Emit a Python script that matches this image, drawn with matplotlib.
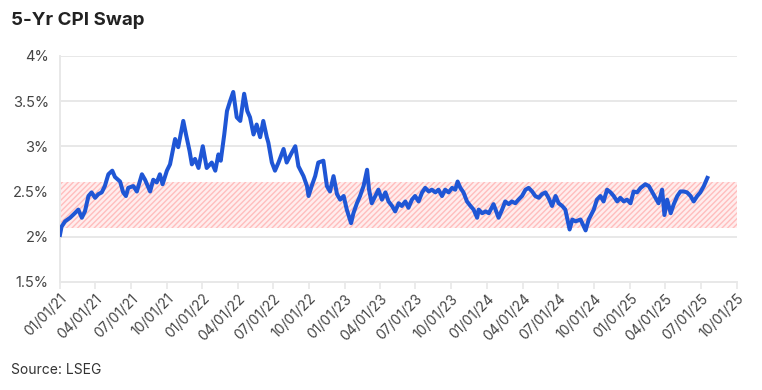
import matplotlib
matplotlib.use('Agg')
import matplotlib.pyplot as plt
import matplotlib.dates as mdates
from matplotlib.ticker import FuncFormatter
import numpy as np
import pandas as pd

# 5-year CPI swap rate (%)
dates = [
    '2021-01-01', '2021-01-05', '2021-01-14', '2021-01-27', '2021-02-08', '2021-02-17',
    '2021-02-26', '2021-03-06', '2021-03-15', '2021-03-23', '2021-04-01', '2021-04-09',
    '2021-04-18', '2021-04-26', '2021-05-05', '2021-05-15', '2021-05-22', '2021-06-04',
    '2021-06-12', '2021-06-19', '2021-06-25', '2021-07-08', '2021-07-17', '2021-07-30',
    '2021-08-07', '2021-08-20', '2021-08-28', '2021-09-06', '2021-09-14', '2021-09-21',
    '2021-10-02', '2021-10-10', '2021-10-23', '2021-10-31', '2021-11-13', '2021-11-20',
    '2021-11-29', '2021-12-05', '2021-12-13', '2021-12-22',
    '2022-01-02', '2022-01-12', '2022-01-25', '2022-02-03', '2022-02-11', '2022-02-17',
    '2022-02-26', '2022-03-05', '2022-03-13', '2022-03-21', '2022-03-30', '2022-04-08',
    '2022-04-18', '2022-04-26', '2022-05-03', '2022-05-12', '2022-05-20', '2022-05-29',
    '2022-06-06', '2022-06-15', '2022-06-19', '2022-06-28', '2022-07-06', '2022-07-15',
    '2022-07-28', '2022-08-05', '2022-08-18', '2022-08-27', '2022-09-04', '2022-09-17',
    '2022-09-26', '2022-09-30', '2022-10-08', '2022-10-17', '2022-10-25', '2022-11-07',
    '2022-11-16', '2022-11-24', '2022-12-03', '2022-12-12', '2022-12-20', '2022-12-29',
    '2023-01-06', '2023-01-17', '2023-01-23', '2023-02-01', '2023-02-09', '2023-02-18',
    '2023-02-27', '2023-03-04', '2023-03-11', '2023-03-20', '2023-03-28', '2023-04-06',
    '2023-04-15', '2023-04-23', '2023-05-02', '2023-05-10', '2023-05-19', '2023-05-27',
    '2023-06-05', '2023-06-13', '2023-06-22', '2023-06-30', '2023-07-09', '2023-07-18',
    '2023-07-26', '2023-08-04', '2023-08-12', '2023-08-21', '2023-08-29', '2023-09-07',
    '2023-09-15', '2023-09-24', '2023-10-03', '2023-10-11', '2023-10-17', '2023-10-24',
    '2023-11-01', '2023-11-10', '2023-11-19', '2023-11-27', '2023-12-06', '2023-12-10',
    '2023-12-19', '2023-12-28',
    '2024-01-05', '2024-01-17', '2024-01-30', '2024-02-08', '2024-02-16', '2024-02-25',
    '2024-03-04', '2024-03-13', '2024-03-21', '2024-03-30', '2024-04-08', '2024-04-16',
    '2024-04-25', '2024-05-03', '2024-05-12', '2024-05-20', '2024-05-29', '2024-06-06',
    '2024-06-15', '2024-06-24', '2024-07-02', '2024-07-11', '2024-07-19', '2024-07-30',
    '2024-08-06', '2024-08-14', '2024-08-27', '2024-09-09', '2024-09-17', '2024-09-30',
    '2024-10-08', '2024-10-17', '2024-10-25', '2024-11-03', '2024-11-12', '2024-11-20',
    '2024-11-29', '2024-12-07', '2024-12-16', '2024-12-24',
    '2025-01-02', '2025-01-10', '2025-01-19', '2025-01-28', '2025-02-09', '2025-02-18',
    '2025-02-27', '2025-03-07', '2025-03-15', '2025-03-24', '2025-03-30', '2025-04-06',
    '2025-04-15', '2025-04-23', '2025-05-02', '2025-05-10', '2025-05-19', '2025-05-27',
    '2025-06-05', '2025-06-13', '2025-06-22', '2025-06-30', '2025-07-09', '2025-07-18',
]
swap = [
    2.02, 2.11, 2.17, 2.21, 2.26, 2.30,
    2.21, 2.28, 2.45, 2.49, 2.43, 2.47,
    2.49, 2.56, 2.69, 2.73, 2.66, 2.61,
    2.49, 2.45, 2.54, 2.56, 2.50, 2.69,
    2.63, 2.50, 2.63, 2.60, 2.69, 2.58,
    2.73, 2.80, 3.08, 2.99, 3.28, 3.13,
    2.95, 2.80, 2.86, 2.76,
    3.00, 2.76, 2.82, 2.73, 2.91, 2.84,
    3.13, 3.39, 3.50, 3.60, 3.32, 3.28,
    3.58, 3.39, 3.32, 3.13, 3.24, 3.10,
    3.28, 3.10, 3.04, 2.82, 2.73, 2.82,
    2.97, 2.82, 2.93, 3.00, 2.78, 2.67,
    2.56, 2.45, 2.56, 2.67, 2.82, 2.84,
    2.56, 2.50, 2.67, 2.47, 2.41, 2.45,
    2.30, 2.15, 2.26, 2.37, 2.45, 2.56,
    2.74, 2.52, 2.37, 2.45, 2.52, 2.41,
    2.49, 2.39, 2.34, 2.28, 2.37, 2.34,
    2.39, 2.32, 2.41, 2.45, 2.39, 2.49,
    2.54, 2.50, 2.52, 2.49, 2.52, 2.45,
    2.52, 2.49, 2.54, 2.52, 2.61, 2.54,
    2.49, 2.39, 2.34, 2.30, 2.21, 2.30,
    2.26, 2.28,
    2.26, 2.36, 2.21, 2.30, 2.39, 2.36,
    2.39, 2.37, 2.41, 2.45, 2.52, 2.54,
    2.50, 2.45, 2.43, 2.47, 2.49, 2.43,
    2.34, 2.45, 2.37, 2.34, 2.30, 2.08,
    2.19, 2.17, 2.19, 2.07, 2.19, 2.30,
    2.41, 2.45, 2.39, 2.52, 2.49, 2.45,
    2.39, 2.43, 2.39, 2.41,
    2.37, 2.50, 2.49, 2.54, 2.58, 2.56,
    2.49, 2.43, 2.37, 2.52, 2.24, 2.41,
    2.26, 2.36, 2.45, 2.50, 2.50, 2.49,
    2.45, 2.39, 2.45, 2.49, 2.56, 2.65,
]
band_low, band_high = 2.1, 2.6
tick_dates = pd.date_range('2021-01-01', '2025-10-01', freq='3MS')

plt.rcParams['font.family'] = ['Inter', 'DejaVu Sans']

fig = plt.figure(figsize=(7.62, 3.90), dpi=100)
ax = fig.add_axes([0.0787, 0.277, 0.888, 0.580])

grid_c = '#e8e8e8'
ax.axhspan(band_low, band_high, facecolor='#ffeded', edgecolor='#ffbdbd',
           hatch='//////', linewidth=0, zorder=1)
ax.plot(pd.to_datetime(dates), swap, color='#1f56d5', lw=2.9,
        solid_joinstyle='round', zorder=3)

ax.set_ylim(1.5, 4.0)
ax.set_yticks([1.5, 2.0, 2.5, 3.0, 3.5, 4.0])
ax.yaxis.set_major_formatter(FuncFormatter(lambda v, p: f'{v:g}%'))
ax.set_xlim(tick_dates[0], tick_dates[-1])
ax.set_xticks(tick_dates)
ax.xaxis.set_major_formatter(mdates.DateFormatter('%m/%d/%y'))

ax.grid(axis='y', color=grid_c, lw=1.4, zorder=0)
ax.set_axisbelow(True)
for s in ['top', 'right']:
    ax.spines[s].set_visible(False)
ax.spines['left'].set_color(grid_c)
ax.spines['left'].set_linewidth(1.4)
ax.spines['bottom'].set_color(grid_c)
ax.spines['bottom'].set_linewidth(1.4)

ax.tick_params(axis='y', length=0, pad=8, labelsize=10.5, labelcolor='#444444')
ax.tick_params(axis='x', length=5, width=1.2, color=grid_c, pad=2,
               labelsize=10, labelcolor='#444444')
for lab in ax.get_xticklabels():
    lab.set_rotation(45)
    lab.set_ha('right')
    lab.set_rotation_mode('anchor')

fig.text(0.014, 0.935, '5-Yr CPI Swap', fontsize=13.5, fontweight='bold', color='#222222')
fig.text(0.014, 0.04, 'Source: LSEG', fontsize=10, color='#333333')

fig.savefig('out.png', dpi=100)
